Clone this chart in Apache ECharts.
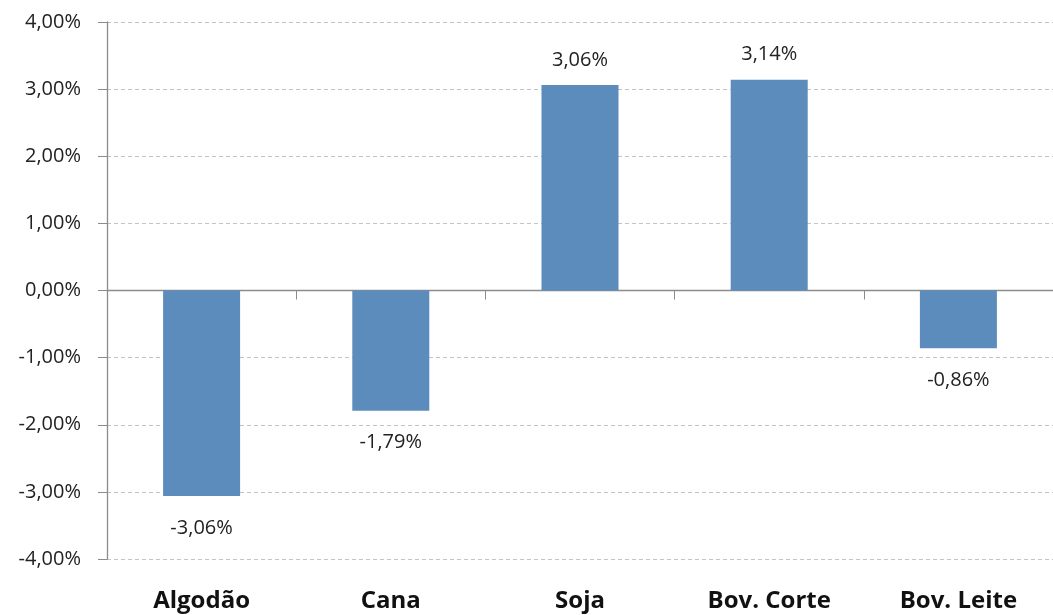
<!DOCTYPE html>
<html>
<head>
<meta charset="utf-8">
<script src="https://cdn.jsdelivr.net/npm/echarts@6/dist/echarts.min.js"></script>
<style>
  html, body { margin: 0; padding: 0; background: #fff; }
  #chart { width: 1053px; height: 615px; }
</style>
</head>
<body>
<div id="chart"></div>
<script>
// Variação percentual por atividade
const categories = ['Algodão', 'Cana', 'Soja', 'Bov. Corte', 'Bov. Leite'];
const values = [-3.06, -1.79, 3.06, 3.14, -0.86];
const yTicks = { min: -4, max: 4, interval: 1 };

const fmtPct = v => v.toFixed(2).replace('.', ',') + '%';
const font = '"Open Sans", "Liberation Sans", sans-serif';

const chart = echarts.init(document.getElementById('chart'), null, { renderer: 'canvas' });
chart.setOption({
  animation: false,
  grid: { left: 107, right: 0, top: 22, bottom: 56, containLabel: false },
  xAxis: [
    {
      // axis line through zero with category separators
      type: 'category',
      data: categories,
      axisLine: { onZero: true, lineStyle: { color: '#8c8c8c', width: 1.3 } },
      axisTick: { show: true, length: 9, inside: false, lineStyle: { color: '#8c8c8c' } },
      axisLabel: { show: false },
      splitLine: { show: false }
    },
    {
      // category names along the bottom
      type: 'category',
      data: categories,
      position: 'bottom',
      axisLine: { show: false, onZero: false },
      axisTick: { show: false },
      axisLabel: {
        show: true, margin: 30, color: '#111',
        fontFamily: font, fontWeight: 'bold', fontSize: 24
      }
    }
  ],
  yAxis: {
    type: 'value',
    min: yTicks.min, max: yTicks.max, interval: yTicks.interval,
    axisLine: { show: true, lineStyle: { color: '#8c8c8c', width: 1.3 } },
    axisTick: { show: true, length: 9, lineStyle: { color: '#8c8c8c' } },
    axisLabel: {
      margin: 26, color: '#222', fontFamily: font, fontSize: 20,
      formatter: v => fmtPct(v)
    },
    splitLine: { show: true, lineStyle: { color: '#c4c4c4', type: [4, 3], width: 1 } }
  },
  series: [{
    type: 'bar',
    xAxisIndex: 0,
    barWidth: 77,
    itemStyle: { color: '#5B8CBC' },
    data: values.map(v => ({
      value: v,
      label: {
        show: true,
        position: v >= 0 ? 'top' : 'bottom',
        distance: v >= 0 ? 15 : 22,
        color: '#222', fontFamily: font, fontSize: 20,
        formatter: p => fmtPct(p.value)
      }
    }))
  }]
});
</script>
</body>
</html>
